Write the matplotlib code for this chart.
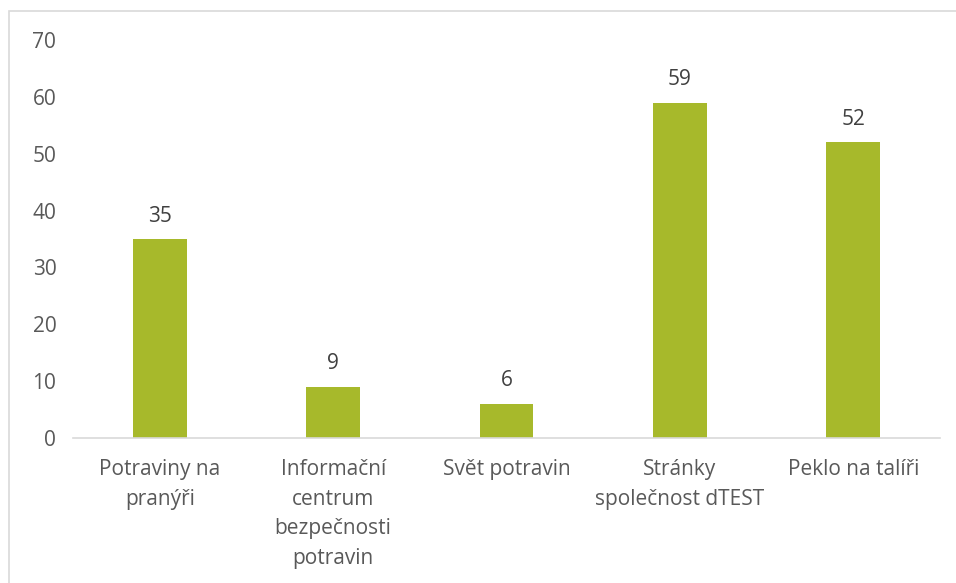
import matplotlib.pyplot as plt
from matplotlib.patches import Rectangle

categories = ["Potraviny na\npranýři", "Informační\ncentrum\nbezpečnosti\npotravin",
              "Svět potravin", "Stránky\nspolečnost dTEST", "Peklo na talíři"]
values = [35, 9, 6, 59, 52]
yticks = [0, 10, 20, 30, 40, 50, 60, 70]

plt.rcParams['font.family'] = ['Open Sans', 'DejaVu Sans']
gray = '#595959'

fig = plt.figure(figsize=(9.56, 5.83), dpi=100)
ax = fig.add_axes([0.0764, 0.2487, 0.9069, 0.6827])

x = range(len(categories))
bars = ax.bar(x, values, width=0.31, color='#A7B92B')
for b, v in zip(bars, values):
    ax.annotate(str(v), (b.get_x() + b.get_width() / 2, v), xytext=(0, 9),
                textcoords='offset points', ha='center', va='bottom',
                fontsize=15, color='#404040')

ax.set_xlim(-0.5, len(categories) - 0.5)
ax.set_ylim(0, 70)
ax.set_yticks(yticks)
ax.set_xticks(list(x))
ax.set_xticklabels(categories, fontsize=15, color=gray, linespacing=1.55)
ax.tick_params(axis='y', labelsize=15, labelcolor=gray, length=0, pad=12)
ax.tick_params(axis='x', length=0, pad=15)
for s in ['top', 'right', 'left']:
    ax.spines[s].set_visible(False)
ax.spines['bottom'].set_color('#D9D9D9')
ax.spines['bottom'].set_linewidth(1.2)

# chart area border (left and top visible)
fig.patches.append(Rectangle((9 / 956, -0.1), 1.2, 1 - 11 / 583 + 0.1,
                             transform=fig.transFigure, fill=False,
                             edgecolor='#D9D9D9', linewidth=1.2))

fig.savefig('out.png', dpi=100)
